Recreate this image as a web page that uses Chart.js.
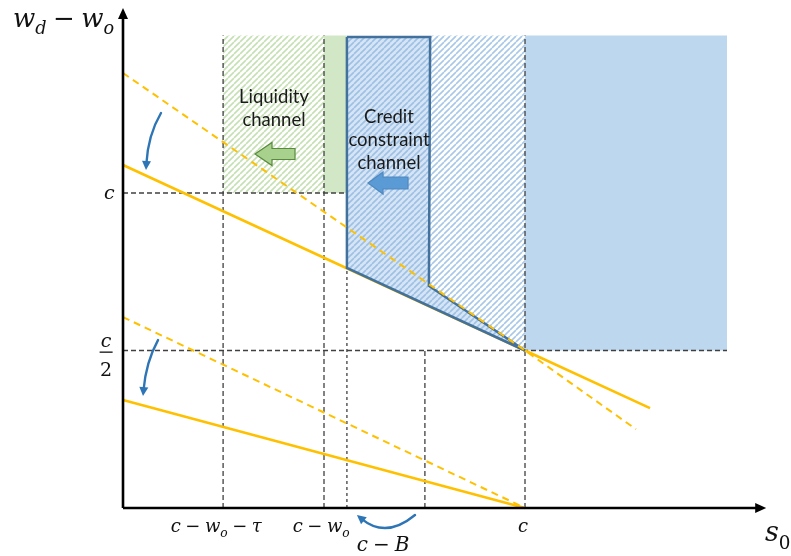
<!DOCTYPE html>
<html>
<head>
<meta charset="utf-8">
<script src="https://cdn.jsdelivr.net/npm/chart.js@4.4.1/dist/chart.umd.min.js"></script>
<style>
  html, body { margin: 0; padding: 0; background: #fff; }
  #wrap { width: 791px; height: 556px; }
</style>
</head>
<body>
<div id="wrap"><canvas id="diagram"></canvas></div>
<script>
// s0 and (w_d - w_o) are both measured in units of c
const xGuideAt   = [0.249, 0.5, 0.557, 0.751, 1];   // c-wo-tau, c-wo, c-B (new), c-B (old), c
const xGuideTop  = [1.5, 1.5, 0.762, 0.5, 1.5];
const yGuideAt   = [1, 0.5];                        // c, c/2
const yGuideEnd  = [0.557, 1.5025];

const upperSolidX = [0, 1, 1.311];
const upperSolidY = [1.089, 0.5, 0.317];
const upperDashX  = [0, 1, 1.276];
const upperDashY  = [1.381, 0.5, 0.25];
const lowerSolidX = [0, 1];
const lowerSolidY = [0.343, 0];
const lowerDashX  = [0, 1];
const lowerDashY  = [0.606, 0];

const liquidityX  = [0.249, 0.5, 0.5, 0.249];
const liquidityY  = [1.5, 1.5, 1, 1];
const liqCoreX    = [0.5, 0.557, 0.557, 0.5];
const liqCoreY    = [1.5, 1.5, 1, 1];
const creditX     = [0.557, 0.764, 0.761, 1, 0.557, 0.557];
const creditY     = [1.495, 1.495, 0.705, 0.5, 0.762, 1.495];
const hatchRightX = [0.764, 1, 1, 0.761];
const hatchRightY = [1.5, 1.5, 0.5, 0.705];
const solidBlueX  = [1, 1.5025, 1.5025, 1];
const solidBlueY  = [1.5, 1.5, 0.5, 0.5];

const axisEndX = 1.6;
const axisEndY = 1.587;

// tick labels: [text, italic, subscript] parts
const SP = '\u2005';
const xTickAt = [0.232, 0.493, 0.995];
const xTickLabels = [
  [['c',1],[SP + '−' + SP,0],['w',1],['o',1,1],[SP + '−' + SP,0],['τ',1]],
  [['c',1],[SP + '−' + SP,0],['w',1],['o',1,1]],
  [['c',1]]
];

const pts = (xs, ys) => xs.map((x, i) => ({ x: x, y: ys[i] }));

function hatch(bg, fg, size, width) {
  const c = document.createElement('canvas');
  c.width = c.height = size;
  const g = c.getContext('2d');
  g.fillStyle = bg;
  g.fillRect(0, 0, size, size);
  g.strokeStyle = fg;
  g.lineWidth = width;
  g.beginPath();
  for (const k of [-size, 0, size]) {
    g.moveTo(k, size);
    g.lineTo(k + size, 0);
  }
  g.stroke();
  return g.createPattern(c, 'repeat');
}

const MATH = '"DejaVu Serif", serif';
function rich(ctx, parts, x, y, size, align) {
  const segs = parts.map(p => {
    const s = p[2] ? size * 0.68 : size;
    const font = (p[1] ? 'italic ' : '') + s + 'px ' + MATH;
    ctx.font = font;
    return { t: p[0], font: font, w: ctx.measureText(p[0]).width, dy: p[2] ? size * 0.28 : 0 };
  });
  const total = segs.reduce((a, s) => a + s.w, 0);
  let cx = align === 'center' ? x - total / 2 : (align === 'right' ? x - total : x);
  ctx.textAlign = 'left';
  ctx.textBaseline = 'alphabetic';
  for (const s of segs) {
    ctx.font = s.font;
    ctx.fillText(s.t, cx, y + s.dy);
    cx += s.w;
  }
}

function curvedArrow(ctx, p0, p1, p2, color) {
  const ang = Math.atan2(p2.y - p1.y, p2.x - p1.x);
  const ex = p2.x - Math.cos(ang) * 6, ey = p2.y - Math.sin(ang) * 6;
  ctx.strokeStyle = color;
  ctx.fillStyle = color;
  ctx.lineWidth = 2.4;
  ctx.lineCap = 'round';
  ctx.beginPath();
  ctx.moveTo(p0.x, p0.y);
  ctx.quadraticCurveTo(p1.x, p1.y, ex, ey);
  ctx.stroke();
  ctx.beginPath();
  ctx.moveTo(p2.x, p2.y);
  ctx.lineTo(p2.x - Math.cos(ang) * 9 + Math.sin(ang) * 4.5, p2.y - Math.sin(ang) * 9 - Math.cos(ang) * 4.5);
  ctx.lineTo(p2.x - Math.cos(ang) * 9 - Math.sin(ang) * 4.5, p2.y - Math.sin(ang) * 9 + Math.cos(ang) * 4.5);
  ctx.closePath();
  ctx.fill();
}

function blockArrow(ctx, tx, ty, len, headLen, headH, shaftH, fill, stroke) {
  ctx.beginPath();
  ctx.moveTo(tx, ty);
  ctx.lineTo(tx + headLen, ty - headH);
  ctx.lineTo(tx + headLen, ty - shaftH);
  ctx.lineTo(tx + len, ty - shaftH);
  ctx.lineTo(tx + len, ty + shaftH);
  ctx.lineTo(tx + headLen, ty + shaftH);
  ctx.lineTo(tx + headLen, ty + headH);
  ctx.closePath();
  ctx.fillStyle = fill;
  ctx.fill();
  if (stroke) {
    ctx.strokeStyle = stroke;
    ctx.lineWidth = 1.2;
    ctx.stroke();
  }
}

const annotations = {
  id: 'annotations',
  afterDatasetsDraw(chart) {
    const ctx = chart.ctx;
    const xs = chart.scales.x, ys = chart.scales.y;
    const P = (x, y) => ({ x: xs.getPixelForValue(x), y: ys.getPixelForValue(y) });
    ctx.save();

    // axis arrowheads
    const top = P(0, axisEndY), right = P(axisEndX, 0);
    ctx.fillStyle = '#000';
    ctx.beginPath();
    ctx.moveTo(top.x, top.y);
    ctx.lineTo(top.x - 5, top.y + 11);
    ctx.lineTo(top.x + 5, top.y + 11);
    ctx.closePath();
    ctx.fill();
    ctx.beginPath();
    ctx.moveTo(right.x, right.y);
    ctx.lineTo(right.x - 11, right.y - 5);
    ctx.lineTo(right.x - 11, right.y + 5);
    ctx.closePath();
    ctx.fill();

    ctx.fillStyle = '#111';
    // axis titles
    const yt = P(-0.2736, 1.527);
    rich(ctx, [['w',1],['d',1,1],[SP + '−' + SP,0],['w',1],['o',1,1]], yt.x, yt.y, 26, 'left');
    const xt = P(1.597, -0.1048);
    rich(ctx, [['s',1],['0',0,1]], xt.x, xt.y, 27, 'left');

    // x tick labels
    xTickAt.forEach((v, i) => {
      const p = P(v, -0.0762);
      rich(ctx, xTickLabels[i], p.x, p.y, 18, 'center');
    });
    const cb = P(0.6468, -0.1365);
    rich(ctx, [['c',1],[SP + '−' + SP,0],['B',1]], cb.x, cb.y, 20, 'center');

    // y tick labels: c and c/2
    const yc = P(-0.021, 1);
    rich(ctx, [['c',1]], yc.x, yc.y + 6, 19, 'right');
    const yh = P(-0.042, 0.5);
    rich(ctx, [['c',1]], yh.x, yh.y - 4, 19, 'center');
    rich(ctx, [['2',0]], yh.x, yh.y + 25, 19, 'center');
    ctx.fillRect(yh.x - 6.5, yh.y + 1, 13, 1.3);

    // channel labels
    ctx.fillStyle = '#1a1a1a';
    ctx.font = '18.5px Lato, "Open Sans", sans-serif';
    ctx.textAlign = 'center';
    ctx.textBaseline = 'middle';
    const l1 = P(0.3756, 1.3048), l2 = P(0.3756, 1.2317);
    ctx.fillText('Liquidity', l1.x, l1.y);
    ctx.fillText('channel', l2.x, l2.y);
    const c1 = P(0.6617, 1.2413), c2 = P(0.6617, 1.1683), c3 = P(0.6617, 1.0952);
    ctx.fillText('Credit', c1.x, c1.y);
    ctx.fillText('constraint', c2.x, c2.y);
    ctx.fillText('channel', c3.x, c3.y);

    // block arrows
    const g = P(0.3284, 1.1238);
    blockArrow(ctx, g.x, g.y, 40, 17, 11.5, 5.5, '#a9d18e', '#5a8a3c');
    const b = P(0.6095, 1.0317);
    blockArrow(ctx, b.x, b.y, 40, 15, 11, 6, '#5b9bd5', '#4f88c0');

    // curved arrows
    const blue = '#2e75b6';
    curvedArrow(ctx, P(0.0945, 1.254), P(0.0622, 1.184), P(0.0572, 1.073), blue);
    curvedArrow(ctx, P(0.0871, 0.533), P(0.0572, 0.4635), P(0.0498, 0.3556), blue);
    curvedArrow(ctx, P(0.7264, -0.0222), P(0.6542, -0.0984), P(0.582, -0.0222), blue);

    ctx.restore();
  }
};

const greenHatch = hatch('#ffffff', '#c5e0b4', 6, 1.6);
const blueHatch = hatch('#ffffff', '#a9c8e8', 6, 1.6);
const creditHatch = hatch('#d5e5f5', '#9dc0e4', 6, 1.6);

const line = (data, color, width, dash, order) => ({
  data: data, showLine: true, borderColor: color, borderWidth: width,
  borderDash: dash || [], pointRadius: 0, fill: false, order: order, tension: 0
});
const region = (data, bg, order, border, bw) => ({
  data: data, showLine: true, backgroundColor: bg, borderColor: border || 'rgba(0,0,0,0)',
  borderWidth: bw || 0, pointRadius: 0, fill: 'shape', order: order, tension: 0
});

const datasets = [
  line(pts([0, 0], [0, axisEndY - 0.02]), '#000', 2.6, null, 0),
  line(pts([0, axisEndX - 0.02], [0, 0]), '#000', 2.6, null, 0),
  line(pts(upperDashX, upperDashY), '#ffc000', 2, [7, 5], 1),
  line(pts(lowerDashX, lowerDashY), '#ffc000', 2, [7, 5], 1),
  region(pts(creditX, creditY), creditHatch, 2, '#41719c', 2.5),
  line(pts(upperSolidX, upperSolidY), '#ffc000', 2.6, null, 3),
  line(pts(lowerSolidX, lowerSolidY), '#ffc000', 2.6, null, 3)
];
xGuideAt.forEach((v, i) => {
  datasets.push(line(pts([v, v], [0, xGuideTop[i]]), '#404040', 1.3, i === 2 ? [3, 3] : [5, 3], 4));
});
yGuideAt.forEach((v, i) => {
  datasets.push(line(pts([0, yGuideEnd[i]], [v, v]), '#404040', 1.3, [5, 3], 4));
});
datasets.push(
  region(pts(hatchRightX, hatchRightY), blueHatch, 5),
  region(pts(liquidityX, liquidityY), greenHatch, 5),
  region(pts(liqCoreX, liqCoreY), '#d2e7c6', 5),
  region(pts(solidBlueX, solidBlueY), '#bdd7ee', 5)
);

new Chart(document.getElementById('diagram'), {
  type: 'scatter',
  data: { datasets: datasets },
  options: {
    responsive: true,
    maintainAspectRatio: false,
    animation: false,
    events: [],
    layout: { padding: 0 },
    scales: {
      x: { type: 'linear', display: false, min: -0.30597, max: 1.66169 },
      y: { type: 'linear', display: false, min: -0.15238, max: 1.612698 }
    },
    plugins: {
      legend: { display: false },
      tooltip: { enabled: false }
    }
  },
  plugins: [annotations]
});
</script>
</body>
</html>
